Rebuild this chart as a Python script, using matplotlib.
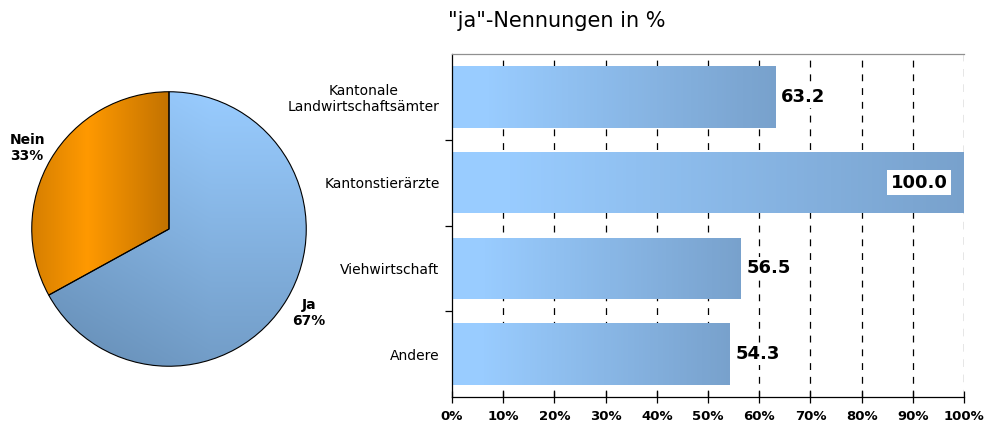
import numpy as np
import matplotlib
matplotlib.use("Agg")
from matplotlib import pyplot as plt
from matplotlib.patches import Wedge
from matplotlib.colors import to_rgb

pie_labels = ["Ja", "Nein"]
pie_values = [67, 33]

categories = ["Kantonale\nLandwirtschaftsämter", "Kantonstierärzte", "Viehwirtschaft", "Andere"]
values = [63.2, 100.0, 56.5, 54.3]
x_ticks = [0, 10, 20, 30, 40, 50, 60, 70, 80, 90, 100]

W, H = 988, 426
fig = plt.figure(figsize=(W / 100, H / 100), dpi=100)


def lerp(c1, c2, t):
    c1 = np.array(to_rgb(c1))
    c2 = np.array(to_rgb(c2))
    t = np.clip(t, 0, 1)[..., None]
    return c1 * (1 - t) + c2 * t


# ---- pie ----
ax_pie = fig.add_axes([29 / W, (H - 369) / H, 280 / W, 280 / H])
ax_pie.set_xlim(-1.02, 1.02)
ax_pie.set_ylim(-1.02, 1.02)
ax_pie.axis("off")

n = 300
xx, yy = np.meshgrid(np.linspace(-1, 1, n), np.linspace(1, -1, n))
# blue: light top right, darker bottom
t_blue = (1 - yy) / 2 * 0.85 + np.clip(0.3 - xx, 0, None) * 0.25
img_blue = lerp("#99ccff", "#6b94bd", t_blue)
# orange: bright on the left, darker toward the centre
t_or = np.abs(xx + 0.6) / 0.6
img_or = lerp("#ff9900", "#c27200", t_or)

ja_angle = pie_values[0] / sum(pie_values) * 360
wedges = [
    (90 - ja_angle, 90, img_blue),
    (90, 90 + 360 - ja_angle, img_or),
]
for theta1, theta2, img in wedges:
    w = Wedge((0, 0), 1, theta1, theta2, facecolor="none", edgecolor="black", lw=0.8, zorder=3)
    ax_pie.add_patch(w)
    im = ax_pie.imshow(img, extent=[-1, 1, -1, 1], zorder=2)
    im.set_clip_path(w)

ax_pie.text(-1.16, 0.59, f"{pie_labels[1]}\n{pie_values[1]}%", ha="left", va="center",
            fontsize=10, fontweight="bold", linespacing=1.15, clip_on=False)
ax_pie.text(1.02, -0.61, f"{pie_labels[0]}\n{pie_values[0]}%", ha="center", va="center",
            fontsize=10, fontweight="bold", linespacing=1.15, clip_on=False)

# ---- bars ----
ax = fig.add_axes([452 / W, (H - 397) / H, 512 / W, 343 / H])
ypos = np.arange(len(categories))
bar_h = 0.72
nseg = 150
for y, v in zip(ypos, values):
    edges = np.linspace(0, v, nseg + 1)
    t = np.clip((np.linspace(0, 1, nseg) - 0.1) / 0.9, 0, 1)
    cols = lerp("#99ccff", "#78a1cc", t)
    ax.barh(np.full(nseg, y), np.diff(edges) * 1.02, left=edges[:-1], height=bar_h,
            color=cols, linewidth=0, antialiased=False, zorder=2)
    if v >= 100:
        ax.text(v - 3.2, y, f"{v:.1f}", ha="right", va="center", fontsize=13, fontweight="bold",
                zorder=4, bbox=dict(facecolor="white", edgecolor="none", pad=2.5))
    else:
        ax.text(v + 1.0, y, f"{v:.1f}", ha="left", va="center", fontsize=13, fontweight="bold",
                zorder=4, bbox=dict(facecolor="white", edgecolor="none", pad=1.5))

ax.set_xlim(0, 100)
ax.set_ylim(len(categories) - 0.5, -0.5)

for xt in x_ticks[1:-1]:
    ax.axvline(xt, color="black", lw=0.9, ls=(0, (5.5, 5.5)), zorder=1)
ax.axvline(100, color="#808080", lw=1.0, ls=(0, (5.5, 5.5)), zorder=1)

ax.set_xticks(x_ticks)
ax.set_xticklabels([f"{x}%" for x in x_ticks], fontsize=9.5, fontweight="bold")
ax.tick_params(axis="x", direction="inout", length=8, width=0.9, pad=5)

ax.set_yticks(ypos)
ax.set_yticklabels(categories, fontsize=10, linespacing=1.15)
ax.set_yticks(ypos[:-1] + 0.5, minor=True)
ax.tick_params(axis="y", which="major", length=0, pad=9)
ax.tick_params(axis="y", which="minor", length=5, width=0.9, direction="out")
for lab in ax.get_yticklabels():
    lab.set_multialignment("center")

ax.spines["left"].set_color("black")
ax.spines["bottom"].set_color("black")
ax.spines["top"].set_color("#909090")
ax.spines["right"].set_visible(False)
for s in ax.spines.values():
    s.set_linewidth(0.9)

fig.text(448 / W, 1 - 21 / H, '"ja"-Nennungen in %', fontsize=15, ha="left", va="center")

fig.savefig("out.png", dpi=100)
